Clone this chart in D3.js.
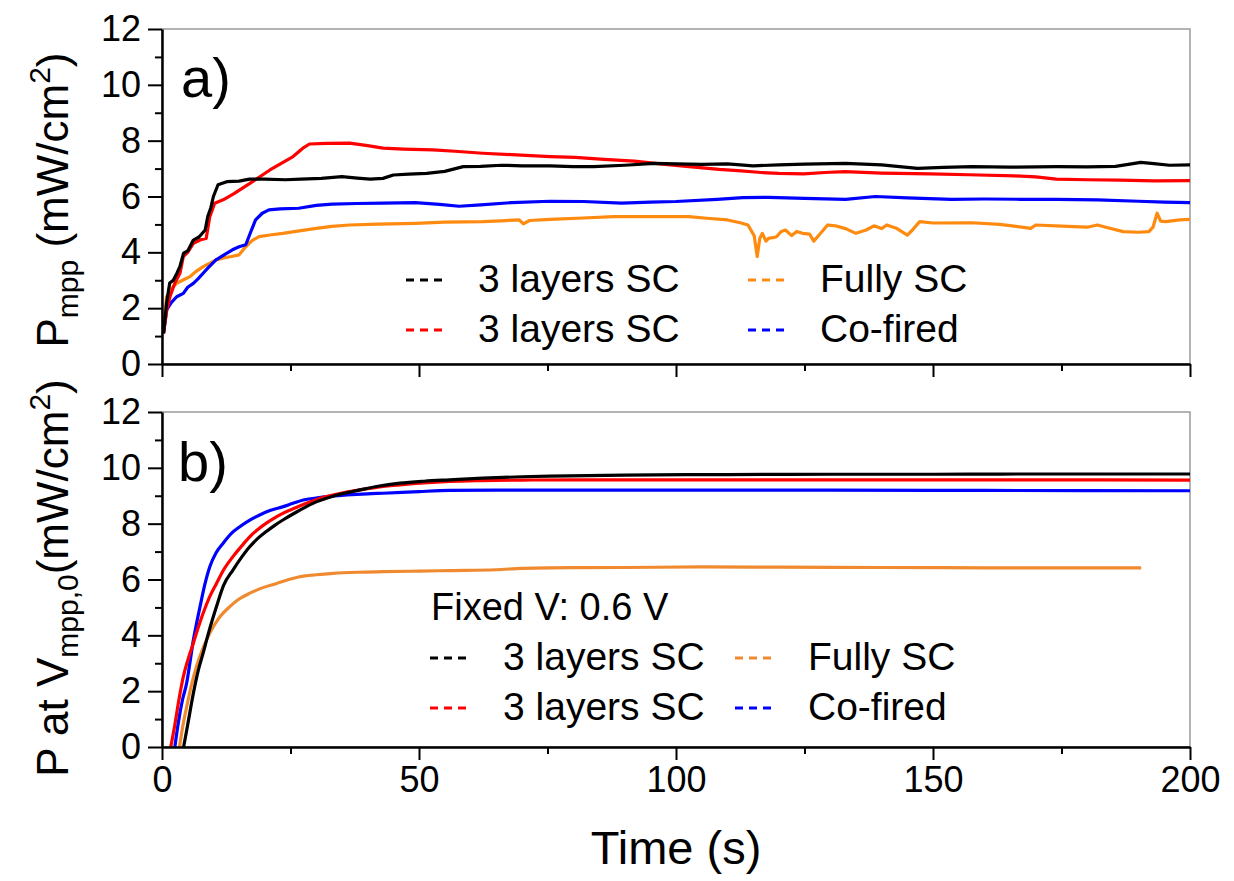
<!DOCTYPE html>
<html>
<head>
<meta charset="utf-8">
<script src="https://cdn.jsdelivr.net/npm/d3@7"></script>
<style>
	body { margin: 0; background: #fff; }
	text { font-family: "Liberation Sans", Arial, sans-serif; fill: #000; }
</style>
</head>
<body>
<div id="chart"></div>
<script>
// panel a) Pmpp tracking, [time s, mW/cm2]
const aBlack = [[0.3,1.1],[0.9,2.2],[1.5,2.9],[2.2,3.0],[2.9,3.25],[3.5,3.5],[4.2,3.97],[5,4.05],[6.1,4.44],[7.2,4.55],[8.4,4.8],[8.9,5.28],[9.5,5.6],[10,6.0],[10.9,6.42],[12.6,6.53],[15,6.55],[17,6.62],[20,6.62],[24,6.6],[27,6.62],[31,6.65],[35,6.71],[38,6.66],[40.5,6.62],[43,6.65],[45,6.77],[48,6.8],[51.5,6.83],[55,6.9],[58.6,7.07],[62,7.08],[66,7.12],[70,7.1],[75.5,7.1],[80,7.07],[84,7.07],[90,7.12],[95.8,7.19],[100,7.17],[105,7.15],[110,7.17],[115,7.1],[120,7.13],[125,7.16],[133,7.19],[140,7.13],[147,7.01],[152,7.04],[157.6,7.07],[165,7.05],[174,7.07],[180,7.06],[185.5,7.08],[188,7.15],[190.4,7.22],[193,7.18],[196,7.12],[200,7.13]];
const aRed = [[0.3,1.1],[0.9,1.9],[1.55,2.41],[2.5,2.9],[3.5,3.25],[4.15,3.85],[5,4.0],[6.1,4.32],[7.5,4.45],[8.6,4.5],[9.3,5.28],[10.25,5.76],[11.9,5.88],[14,6.1],[17.1,6.47],[21,6.95],[25.5,7.43],[27.4,7.73],[28.7,7.88],[32,7.9],[36.5,7.91],[40,7.82],[43,7.73],[47,7.7],[52.7,7.67],[57,7.62],[62.4,7.55],[68,7.5],[75.5,7.43],[80.4,7.4],[86,7.33],[91.9,7.27],[96.9,7.17],[102,7.08],[108.4,6.97],[112,6.93],[116.6,6.86],[120,6.83],[124.8,6.81],[129,6.86],[132.9,6.89],[140,6.84],[149.4,6.81],[157,6.78],[165.8,6.74],[170,6.7],[174,6.62],[180,6.6],[186.4,6.59],[193,6.56],[200,6.57]];
const aBlue = [[0.3,1.1],[0.9,1.94],[1.8,2.2],[2.85,2.41],[4.15,2.53],[5,2.75],[6.1,2.89],[7,3.05],[8,3.25],[9,3.45],[10.5,3.73],[12,3.9],[13.7,4.09],[15,4.2],[16.3,4.27],[17.2,4.7],[18.2,5.16],[19.5,5.4],[20.8,5.52],[23,5.56],[26.6,5.58],[30,5.68],[33.1,5.73],[38,5.75],[43,5.76],[49.3,5.78],[54,5.72],[57.8,5.65],[62,5.7],[68,5.78],[75.5,5.83],[82,5.82],[89.4,5.76],[95,5.8],[100,5.82],[108,5.9],[113,5.96],[118,5.97],[125,5.93],[133,5.9],[138.8,6.0],[145,5.95],[153.6,5.9],[160,5.91],[167,5.9],[174,5.9],[182,5.88],[190,5.83],[195,5.8],[200,5.78]];
const aOrange = [[0.3,1.34],[0.9,2.41],[1.8,2.7],[2.85,2.89],[4,3.0],[5.45,3.13],[6.5,3.3],[8,3.49],[9,3.58],[10.5,3.73],[12,3.8],[13.5,3.85],[15,3.91],[16.3,4.2],[17.5,4.42],[18.9,4.56],[21,4.62],[23.5,4.68],[27,4.78],[30,4.86],[33,4.93],[36.5,4.98],[42,5.01],[49.3,5.04],[55,5.08],[62.4,5.1],[66,5.13],[69.5,5.16],[70.3,5.02],[71.5,5.14],[75.5,5.18],[82,5.23],[87.8,5.28],[95,5.28],[102.5,5.28],[106,5.22],[110,5.16],[112.5,5.06],[114,4.98],[115.2,4.6],[115.8,3.85],[116.3,4.5],[116.8,4.68],[117.5,4.4],[118,4.5],[119.5,4.55],[120.5,4.75],[121.3,4.8],[122.5,4.6],[123.5,4.75],[124.6,4.68],[126,4.65],[126.8,4.4],[127.5,4.55],[129.5,4.98],[131,4.95],[133,4.85],[135,4.68],[137,4.8],[138.5,4.95],[140,4.85],[141,4.98],[143,4.85],[145,4.62],[146,4.8],[147.4,5.1],[150,5.05],[157.5,5.06],[163,5.0],[169,4.86],[170,4.98],[175,4.94],[180,4.9],[182,4.98],[184,4.88],[187,4.74],[190,4.72],[192,4.74],[192.8,4.9],[193.6,5.4],[194.3,5.12],[195.3,5.1],[198,5.16],[200,5.18]];

// panel b) power at fixed V
const bBlack = [[4.2,0],[5,0.8],[6.1,1.92],[7,2.7],[8,3.36],[9,4.05],[10.6,5.03],[12,5.8],[13.8,6.34],[15.5,6.8],[17.1,7.18],[18.7,7.48],[20.3,7.72],[22,7.95],[23.6,8.14],[26,8.4],[28.1,8.61],[30,8.78],[32,8.91],[35,9.07],[38.5,9.21],[42,9.34],[46.3,9.45],[51,9.52],[56,9.57],[62.4,9.63],[70,9.68],[75.5,9.7],[90,9.74],[110,9.76],[130,9.77],[150,9.77],[170,9.78],[200,9.78]];
const bRed = [[1.7,0],[2.5,0.8],[3.3,1.7],[4.15,2.52],[5,3.1],[6.1,3.72],[7,4.25],[8,4.79],[9.2,5.35],[10.6,5.86],[12,6.35],[13.8,6.82],[15.5,7.2],[17.1,7.54],[18.7,7.8],[20.3,8.02],[22,8.22],[23.6,8.38],[26,8.57],[28.1,8.73],[30,8.86],[32,8.97],[35,9.1],[38.5,9.21],[42,9.31],[46.3,9.39],[51,9.46],[56,9.51],[62,9.54],[70,9.56],[80,9.57],[100,9.57],[130,9.57],[160,9.57],[200,9.56]];
const bBlue = [[2.5,0],[3.2,0.9],[4,1.7],[4.8,2.29],[5.5,3.1],[6.1,3.83],[6.8,4.5],[7.4,5.03],[8.3,5.8],[9.3,6.46],[10.5,6.95],[11.9,7.3],[13.5,7.65],[15.2,7.9],[17,8.12],[19.1,8.32],[21,8.47],[23.6,8.61],[25.5,8.73],[27.5,8.85],[30,8.92],[32,8.97],[36,9.03],[40,9.07],[43,9.09],[50,9.15],[56,9.19],[65,9.2],[75.5,9.2],[100,9.2],[130,9.2],[160,9.19],[200,9.18]];
const bOrange = [[3.4,0],[4,0.7],[4.8,1.44],[5.7,2.2],[6.7,2.88],[8,3.55],[9.3,4.08],[11,4.6],[13.2,5.03],[15,5.3],[17.1,5.51],[19.5,5.7],[22.3,5.86],[24.5,5.99],[26.8,6.1],[30,6.17],[33.3,6.22],[38,6.26],[43,6.28],[50,6.3],[56,6.32],[65,6.35],[70,6.4],[75.5,6.42],[90,6.43],[105,6.45],[120,6.44],[140,6.43],[160,6.42],[180,6.42],[190.5,6.42]];

const legendLabels = ["3 layers SC", "3 layers SC", "Fully SC", "Co-fired"];
const xTicks = [0, 50, 100, 150, 200];
const yTicks = [0, 2, 4, 6, 8, 10, 12];

const width = 1234, height = 881;
const plotLeft = 162, plotRight = 1190;

const svg = d3.select("#chart").append("svg")
	.attr("width", width)
	.attr("height", height);

const x = d3.scaleLinear().domain([0, 200]).range([plotLeft, plotRight]);

function panel({ top, bottom, series, orange, curve, showXLabels }) {
	const y = d3.scaleLinear().domain([0, 12]).range([bottom, top]);
	const g = svg.append("g");

	// gray box (top/right)
	g.append("rect")
		.attr("x", plotLeft).attr("y", top)
		.attr("width", plotRight - plotLeft).attr("height", bottom - top)
		.attr("fill", "none").attr("stroke", "#9a9a9a").attr("stroke-width", 1.5);

	const colors = ["#000000", "#ff0000", orange, "#0000ff"];
	const line = d3.line().x(d => x(d[0])).y(d => y(d[1])).curve(curve);
	// draw order: orange, blue, red, black like the figure
	const order = [2, 3, 1, 0];
	for (const i of order) {
		g.append("path")
			.datum(series[i])
			.attr("fill", "none")
			.attr("stroke", colors[i])
			.attr("stroke-width", 3.2)
			.attr("stroke-linejoin", "round")
			.attr("d", line);
	}

	// minor ticks
	g.append("g")
		.attr("transform", `translate(${plotLeft},0)`)
		.call(d3.axisLeft(y).tickValues(d3.range(1, 12, 2)).tickSize(7).tickFormat(""))
		.call(a => a.select(".domain").remove());
	g.append("g")
		.attr("transform", `translate(0,${bottom})`)
		.call(d3.axisBottom(x).tickValues([25, 75, 125, 175]).tickSize(7).tickFormat(""))
		.call(a => a.select(".domain").remove());

	const yAxis = g.append("g")
		.attr("transform", `translate(${plotLeft},0)`)
		.call(d3.axisLeft(y).tickValues(yTicks).tickSize(14).tickSizeOuter(0).tickPadding(7));
	const xAxis = g.append("g")
		.attr("transform", `translate(0,${bottom})`)
		.call(d3.axisBottom(x).tickValues(xTicks).tickSize(13).tickSizeOuter(0).tickPadding(6)
			.tickFormat(showXLabels ? d3.format("d") : ""));

	for (const a of [yAxis, xAxis]) {
		a.select(".domain").attr("stroke-width", 2.5);
		a.selectAll("text").style("font-size", "36px").attr("fill", "#000");
	}
	g.selectAll(".tick line").attr("stroke", "#000").attr("stroke-width", 2);
	return { g, y, colors };
}

function legend(g, colors, x1, x2, y1, y2, gap) {
	const rows = [[0, x1, y1], [1, x1, y2], [2, x2, y1], [3, x2, y2]];
	for (const [i, lx, ly] of rows) {
		g.append("line")
			.attr("x1", lx).attr("x2", lx + 36)
			.attr("y1", ly - 12).attr("y2", ly - 12)
			.attr("stroke", colors[i]).attr("stroke-width", 3)
			.attr("stroke-dasharray", "8,6");
		g.append("text")
			.attr("x", lx + gap).attr("y", ly)
			.style("font-size", "39px")
			.text(legendLabels[i]);
	}
}

// panel a
const pa = panel({
	top: 29, bottom: 364,
	series: [aBlack, aRed, aOrange, aBlue],
	orange: "#ff8a10", curve: d3.curveLinear, showXLabels: false
});
pa.g.append("text").attr("x", 181).attr("y", 97).style("font-size", "56px").text("a)");
legend(pa.g, pa.colors, 406, 748, 292, 342, 72);

// panel b
const pb = panel({
	top: 412, bottom: 747,
	series: [bBlack, bRed, bOrange, bBlue],
	orange: "#f08a30", curve: d3.curveMonotoneX, showXLabels: true
});
pb.g.append("text").attr("x", 178).attr("y", 481).style("font-size", "56px").text("b)");
pb.g.append("text").attr("x", 431).attr("y", 620).style("font-size", "38px").text("Fixed V: 0.6 V");
legend(pb.g, pb.colors, 430, 735, 670, 720, 73);

// axis titles
svg.append("text")
	.attr("x", (plotLeft + plotRight) / 2).attr("y", 864)
	.attr("text-anchor", "middle")
	.style("font-size", "47px")
	.text("Time (s)");

const ta = svg.append("text")
	.attr("transform", "translate(68,200) rotate(-90)")
	.attr("text-anchor", "middle")
	.style("font-size", "44px");
ta.append("tspan").text("P");
ta.append("tspan").attr("dy", 10).style("font-size", "30px").text("mpp");
ta.append("tspan").attr("dy", -10).text(" (mW/cm");
ta.append("tspan").attr("dy", -18).style("font-size", "30px").text("2");
ta.append("tspan").attr("dy", 18).text(")");

const tb = svg.append("text")
	.attr("transform", "translate(68,578) rotate(-90)")
	.attr("text-anchor", "middle")
	.style("font-size", "44px");
tb.append("tspan").text("P at V");
tb.append("tspan").attr("dy", 10).style("font-size", "30px").text("mpp,0");
tb.append("tspan").attr("dy", -10).text("(mW/cm");
tb.append("tspan").attr("dy", -18).style("font-size", "30px").text("2");
tb.append("tspan").attr("dy", 18).text(")");
</script>
</body>
</html>
